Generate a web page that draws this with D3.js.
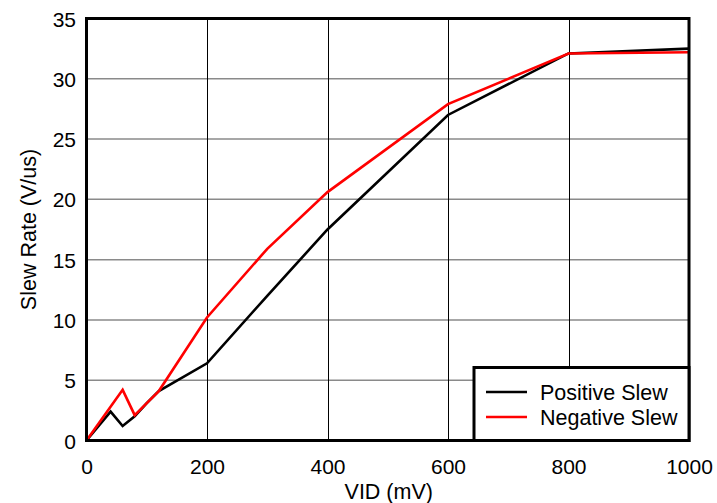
<!DOCTYPE html>
<html><head><meta charset="utf-8">
<script src="https://cdn.jsdelivr.net/npm/d3@7"></script>
<style>body{margin:0;background:#fff}svg{display:block}text{font-family:"Liberation Sans",Arial,sans-serif;fill:#000}</style>
</head><body>
<svg id="c" width="717" height="503"></svg>
<script>
const vid = [0, 40, 60, 80, 100, 120, 200, 300, 400, 600, 800, 1000];
const positiveSlew = [0, 2.4, 1.2, 2.0, 3.1, 4.1, 6.4, 12.0, 17.5, 27.0, 32.1, 32.5];
const negVid = [0, 60, 80, 100, 120, 200, 300, 400, 600, 800, 1000];
const negativeSlew = [0, 4.2, 2.1, 3.1, 4.1, 10.2, 15.9, 20.6, 27.9, 32.1, 32.2];
const xTicks = [0, 200, 400, 600, 800, 1000];
const yTicks = [0, 5, 10, 15, 20, 25, 30, 35];
const seriesNames = ["Positive Slew", "Negative Slew"];
const colors = ["#000000", "#ff0000"];

const svg = d3.select("#c");
const L = 86.5, R = 689, T = 18.5, B = 440.5;
const x = d3.scaleLinear().domain([0, 1000]).range([L, R]);
const y = d3.scaleLinear().domain([0, 35]).range([B, T]);

// horizontal grid
svg.append("g").selectAll("line").data(yTicks.filter(d => d > 0 && d < 35)).join("line")
  .attr("x1", L).attr("x2", R).attr("y1", d => y(d)).attr("y2", d => y(d))
  .attr("stroke", "#8a8a8a").attr("stroke-width", 1.5);
// vertical grid
svg.append("g").selectAll("line").data(xTicks.filter(d => d > 0 && d < 1000)).join("line")
  .attr("y1", T).attr("y2", B).attr("x1", d => Math.round(x(d)) + 0.5).attr("x2", d => Math.round(x(d)) + 0.5)
  .attr("stroke", "#000").attr("stroke-width", 1);

const line = d3.line().x(d => x(d[0])).y(d => y(d[1]));
const posData = vid.map((v, i) => [v, positiveSlew[i]]);
const negData = negVid.map((v, i) => [v, negativeSlew[i]]);
svg.append("path").datum(posData).attr("d", line).attr("fill", "none")
  .attr("stroke", colors[0]).attr("stroke-width", 2.6).attr("stroke-linejoin", "miter");
svg.append("path").datum(negData).attr("d", line).attr("fill", "none")
  .attr("stroke", colors[1]).attr("stroke-width", 2.6).attr("stroke-linejoin", "miter");

// frame
svg.append("rect").attr("x", L).attr("y", T).attr("width", R - L).attr("height", B - T)
  .attr("fill", "none").attr("stroke", "#000").attr("stroke-width", 3);

// axes (labels only)
const xAxis = d3.axisBottom(x).tickValues(xTicks).tickFormat(d3.format("d")).tickSize(0).tickPadding(0);
const gx = svg.append("g").attr("transform", `translate(0,${B})`).call(xAxis);
gx.select(".domain").remove();
gx.selectAll("text").attr("y", 33).attr("dy", 0).style("font-size", "21px").attr("font-family", null);

const yAxis = d3.axisLeft(y).tickValues(yTicks).tickFormat(d3.format("d")).tickSize(0).tickPadding(0);
const gy = svg.append("g").attr("transform", `translate(76,0)`).call(yAxis);
gy.select(".domain").remove();
gy.selectAll("text").attr("x", 0).attr("dy", "0.36em").style("font-size", "21px").attr("font-family", null);

svg.append("text").attr("x", (L + R) / 2 + 1).attr("y", 499).attr("text-anchor", "middle")
  .style("font-size", "21.5px").text("VID (mV)");
svg.append("text").attr("transform", `translate(36,${(T + B) / 2}) rotate(-90)`).attr("text-anchor", "middle")
  .style("font-size", "21.5px").text("Slew Rate (V/us)");

// legend
const lg = svg.append("g");
lg.append("rect").attr("x", 474).attr("y", 367.5).attr("width", R - 474).attr("height", B - 367.5)
  .attr("fill", "#fff").attr("stroke", "#000").attr("stroke-width", 3);
seriesNames.forEach((n, i) => {
  const yy = 392 + i * 25;
  lg.append("line").attr("x1", 486).attr("x2", 527).attr("y1", yy).attr("y2", yy)
    .attr("stroke", colors[i]).attr("stroke-width", 2.6);
  lg.append("text").attr("x", 540).attr("y", yy + 7.5).style("font-size", "21.5px").text(n);
});
</script>
</body></html>
